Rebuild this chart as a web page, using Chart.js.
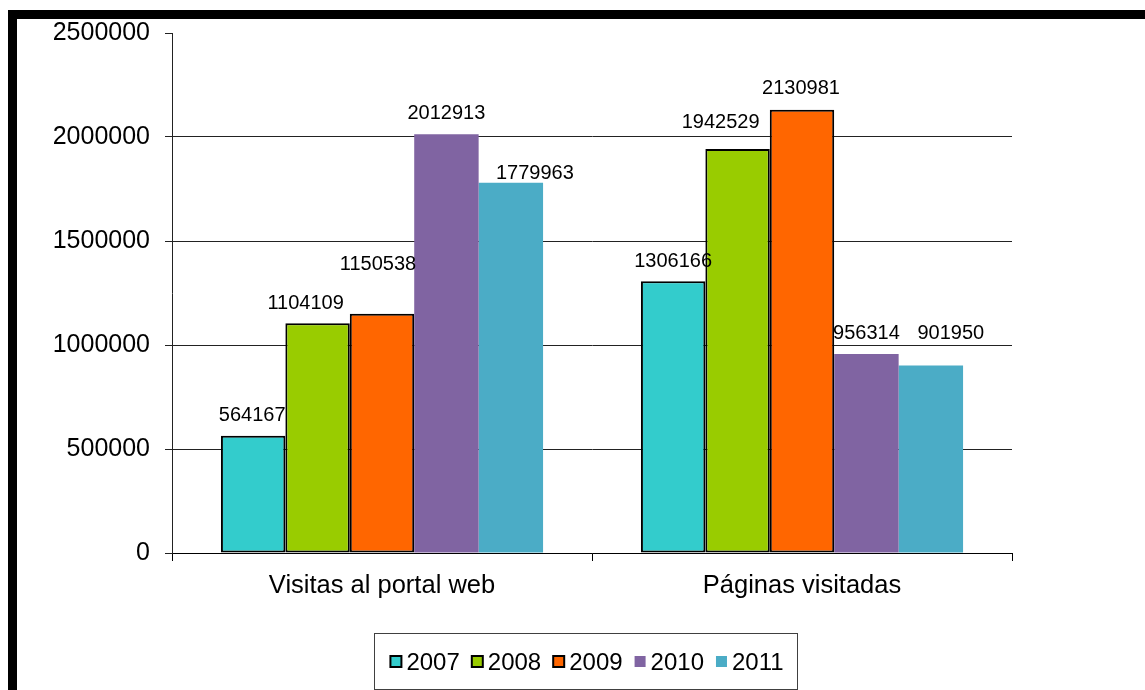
<!DOCTYPE html>
<html lang="es">
<head>
  <meta charset="UTF-8">
  <title>Visitas al portal web 2007-2011</title>
  <script src="https://cdn.jsdelivr.net/npm/chart.js"></script>
  <style>
    html, body { margin: 0; padding: 0; background: #fff; }
    .wrap { width: 1145px; height: 690px; position: relative; }
  </style>
</head>
<body>
  <div class="wrap"><canvas id="chart"></canvas></div>

  <script>
    // categorias y series por año
    const categories = ['Visitas al portal web', 'Páginas visitadas'];
    const years = ['2007', '2008', '2009', '2010', '2011'];
    const visitas = [564167, 1104109, 1150538, 2012913, 1779963];
    const paginas = [1306166, 1942529, 2130981, 956314, 901950];
    const yearColors = ['#33CCCC', '#99CC00', '#FF6600', '#8064A2', '#4BACC6'];
    const yearOutlined = [true, true, true, false, false];

    // pequeños desplazamientos de las etiquetas [dx, dy] por año y categoria
    const labelShift = [
      [[-1, 0], [0, 1]],
      [[-12, 0], [-17, -6]],
      [[-4, -29], [-1, -1]],
      [[0, 0], [0, 0]],
      [[24, 11], [20, -12]]
    ];

    const FONT = '"Liberation Sans", Arial, sans-serif';

    const datasets = years.map((y, i) => ({
      label: y,
      data: [visitas[i], paginas[i]],
      backgroundColor: yearColors[i],
      borderColor: '#000',
      borderWidth: yearOutlined[i] ? 2 : 0,
      borderSkipped: false,
      categoryPercentage: 0.767,
      barPercentage: 1
    }));

    // marco negro arriba y a la izquierda
    const frame = {
      id: 'frame',
      beforeDraw(chart) {
        const ctx = chart.ctx;
        ctx.save();
        ctx.fillStyle = '#fff';
        ctx.fillRect(0, 0, chart.width, chart.height);
        ctx.fillStyle = '#000';
        ctx.fillRect(8, 10, chart.width - 8, 9);
        ctx.fillRect(8, 10, 9, chart.height - 10);
        ctx.restore();
      }
    };

    // valores encima de cada barra
    const valueLabels = {
      id: 'valueLabels',
      afterDatasetsDraw(chart) {
        const ctx = chart.ctx;
        const fs = 20;
        ctx.save();
        ctx.font = fs + 'px ' + FONT;
        ctx.fillStyle = '#000';
        ctx.textAlign = 'center';
        ctx.textBaseline = 'alphabetic';
        chart.data.datasets.forEach((ds, di) => {
          chart.getDatasetMeta(di).data.forEach((bar, ci) => {
            const [dx, dy] = labelShift[di][ci];
            const cy = bar.y - 22 + dy;
            ctx.fillText(String(ds.data[ci]), bar.x + dx, cy + fs * 0.358);
          });
        });
        ctx.restore();
      }
    };

    // leyenda con recuadro debajo del grafico
    const boxLegend = {
      id: 'boxLegend',
      afterDraw(chart) {
        const ctx = chart.ctx;
        const fs = 24, sq = 11, gapText = 5, gapItem = 12;
        ctx.save();
        ctx.font = fs + 'px ' + FONT;
        const items = chart.data.datasets.map(ds => ({ ds, w: ctx.measureText(ds.label).width }));
        const total = items.reduce((s, it) => s + sq + gapText + it.w, 0) + gapItem * (items.length - 1);
        const cx = 587, cy = 661.5;
        const bw = 423, bh = 56;
        ctx.strokeStyle = '#404040';
        ctx.lineWidth = 1;
        ctx.strokeRect(Math.round(585.5 - bw / 2) + 0.5, 633.5, bw, bh);
        let x = cx - total / 2;
        ctx.textBaseline = 'alphabetic';
        ctx.textAlign = 'left';
        items.forEach(({ ds, w }) => {
          ctx.fillStyle = ds.backgroundColor;
          ctx.fillRect(x, cy - sq / 2, sq, sq);
          if (ds.borderWidth) {
            ctx.strokeStyle = '#000';
            ctx.lineWidth = 2;
            ctx.strokeRect(x, cy - sq / 2, sq, sq);
          }
          ctx.fillStyle = '#000';
          ctx.fillText(ds.label, x + sq + gapText, cy + fs * 0.358);
          x += sq + gapText + w + gapItem;
        });
        ctx.restore();
      }
    };

    new Chart(document.getElementById('chart'), {
      type: 'bar',
      data: { labels: categories, datasets },
      plugins: [frame, valueLabels, boxLegend],
      options: {
        responsive: true,
        maintainAspectRatio: false,
        animation: false,
        devicePixelRatio: 1,
        layout: { padding: { top: 33, right: 133, left: 0, bottom: 0 } },
        plugins: { legend: { display: false }, tooltip: { enabled: false } },
        scales: {
          x: {
            afterFit(scale) { scale.height = 137; },
            grid: {
              offset: true,
              drawOnChartArea: false,
              drawTicks: true,
              tickLength: 8,
              tickColor: '#000',
              lineWidth: 1
            },
            border: { color: '#000', width: 1 },
            ticks: {
              color: '#000',
              font: { family: FONT, size: 25.5 },
              padding: 10
            }
          },
          y: {
            min: 0,
            max: 2500000,
            afterFit(scale) { scale.width = 172; },
            grid: {
              color: ctx => ctx.tick && ctx.tick.value === 2500000 ? 'rgba(0,0,0,0)' : '#222',
              tickColor: '#222',
              tickLength: 7,
              lineWidth: 1
            },
            border: { color: '#222', width: 1 },
            ticks: {
              stepSize: 500000,
              color: '#000',
              font: { family: FONT, size: 25 },
              padding: 15,
              callback: v => String(v)
            }
          }
        }
      }
    });
  </script>
</body>
</html>
